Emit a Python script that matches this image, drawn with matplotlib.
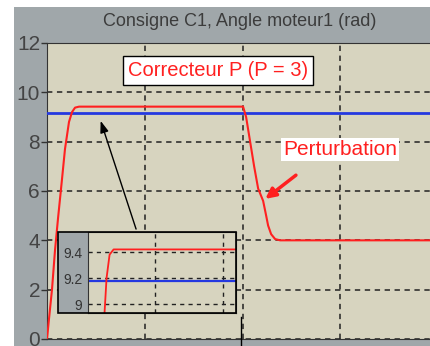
import matplotlib.pyplot as plt
from matplotlib.patches import Rectangle

plt.rcParams['font.family'] = ['Liberation Sans', 'DejaVu Sans']

# time (s) and measured angle of motor 1 (rad), P controller
t_resp = [0, 0.02, 0.051, 0.082, 0.113, 0.154, 0.184, 0.225, 0.256, 0.287, 0.328,
          2.006, 2.037, 2.078, 2.119, 2.160, 2.211, 2.242, 2.262, 2.293, 2.334, 2.385, 4.0]
angle_resp = [0, 0.8, 2.0, 3.6, 4.9, 6.5, 7.7, 8.8, 9.2, 9.38, 9.42,
              9.42, 9.0, 8.0, 7.0, 6.1, 5.6, 5.0, 4.6, 4.25, 4.05, 4.0, 4.0]
# setpoint C1
t_cons = [0, 4.0]
angle_cons = [9.18, 9.18]

main_yticks = [0, 2, 4, 6, 8, 10, 12]
zoom_yticks = [9.0, 9.2, 9.4]
zoom_ylabels = ['9', '9.2', '9.4']

W, H = 430, 346
PANEL = '#a0a7aa'
FACE = '#d7d4bf'
RED = '#ff2020'
BLUE = '#2438e0'


def px_box(x0, y0, x1, y1):
    # pixel box (top-left origin) -> figure fraction rect
    return [x0 / W, 1 - y1 / H, (x1 - x0) / W, (y1 - y0) / H]


fig = plt.figure(figsize=(W / 100, H / 100), dpi=100)
fig.patch.set_facecolor('white')
fig.add_artist(Rectangle((14 / W, 0), 1, (H - 7) / H, transform=fig.transFigure,
                         facecolor=PANEL, edgecolor='none', zorder=0))
fig.text(240 / W, 1 - 22 / H, 'Consigne C1, Angle moteur1 (rad)', ha='center', va='center',
         fontsize=13, color='#3c3c3c')

ax = fig.add_axes(px_box(47, 43, 438, 339))
ax.set_facecolor(FACE)
ax.set_xlim(0, 4)
ax.set_ylim(0, 12)
ax.set_xticks([1, 2, 3])
ax.set_xticklabels([])
ax.set_yticks(main_yticks)
ax.tick_params(axis='y', labelsize=15, labelcolor='#444444', length=4, width=1, color='#333333', pad=1)
ax.tick_params(axis='x', length=0)
for s in ax.spines.values():
    s.set_color('#333333')
ax.grid(True, color='#222222', linestyle=(0, (3.5, 3)), linewidth=1.1)
ax.set_axisbelow(True)

ax.plot(t_cons, angle_cons, color=BLUE, lw=2, zorder=3)
ax.plot(t_resp, angle_resp, color=RED, lw=1.5, zorder=4)

ax.text(1.75, 10.9, 'Correcteur P (P = 3)', color=RED, fontsize=14.5, ha='center', va='center',
        bbox=dict(boxstyle='square,pad=0.25', facecolor='white', edgecolor='black', lw=1), zorder=6)
ax.text(3.0, 7.69, 'Perturbation', color=RED, fontsize=15, ha='center', va='center',
        bbox=dict(boxstyle='square,pad=0.1', facecolor='white', edgecolor='none'), zorder=6)

ax.annotate('', xy=(2.211, 5.61), xytext=(2.569, 6.71),
            arrowprops=dict(arrowstyle='-|>,head_length=0.6,head_width=0.3', color=RED, lw=2.5), zorder=6)
ax.annotate('', xy=(0.54, 8.95), xytext=(0.92, 4.35),
            arrowprops=dict(arrowstyle='-|>,head_length=0.7,head_width=0.25', color='black', lw=1), zorder=6)

# cursor mark below the curve
ax.plot([1.986, 1.986], [0.9, -0.4], color='black', lw=1, clip_on=False, zorder=6)

# zoom on the plateau
fig.add_artist(Rectangle((58 / W, 1 - 313 / H), 30 / W, 81 / H, transform=fig.transFigure,
                         facecolor=PANEL, edgecolor='none', zorder=5))
axz = fig.add_axes(px_box(88, 232, 236, 313), zorder=5)
axz.set_facecolor(FACE)
axz.set_xlim(0.066, 1.581)
axz.set_ylim(8.931, 9.554)
axz.set_xticks([0.752, 1.448])
axz.set_xticklabels([])
axz.set_yticks(zoom_yticks)
axz.set_yticklabels(zoom_ylabels)
axz.tick_params(axis='y', labelsize=10, labelcolor='#333333', length=0, pad=4)
axz.tick_params(axis='x', length=0)
axz.grid(True, color='#222222', linestyle=(0, (3, 3)), linewidth=1)
axz.set_axisbelow(True)
for s in axz.spines.values():
    s.set_color('#333333')
axz.plot(t_cons, angle_cons, color=BLUE, lw=1.6)
axz.plot(t_resp, angle_resp, color=RED, lw=1.3)
fig.add_artist(Rectangle((58 / W, 1 - 313 / H), 178 / W, 81 / H, transform=fig.transFigure,
                         facecolor='none', edgecolor='black', lw=1.2, zorder=7))

fig.savefig('out.png', dpi=100)
